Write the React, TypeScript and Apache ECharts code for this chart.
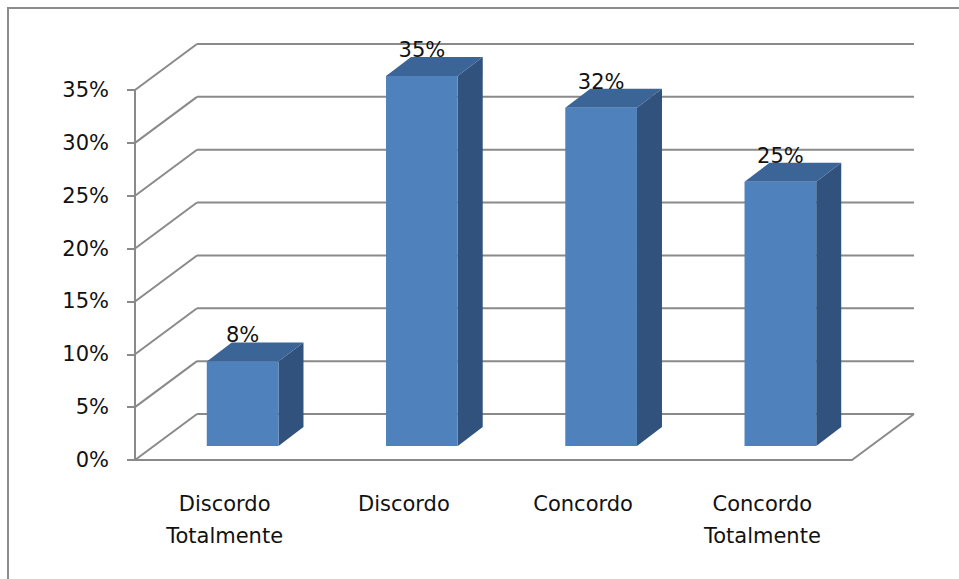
import React, { useEffect, useRef } from "react";
import * as echarts from "echarts";

// Survey answers and their shares (percent)
const categories = ["Discordo\nTotalmente", "Discordo", "Concordo", "Concordo\nTotalmente"];
const values = [8, 35, 32, 25];
// Value-axis ticks (percent)
const yTicks = [0, 5, 10, 15, 20, 25, 30, 35];

// Oblique projection used to fake the 3D look
const WALL_DX = 62;
const WALL_DY = -46;
const PLANE_DX = 18;
const PLANE_DY = -14;
const BAR_DX = 25;
const BAR_DY = -19;

const GRID_COLOR = "#8a8a8a";
const FONT = "DejaVu Sans";

export default function App() {
  const ref = useRef<HTMLDivElement>(null);

  useEffect(() => {
    if (!ref.current) return;
    const chart = echarts.init(ref.current, null, { renderer: "svg" });

    const option: any = {
      animation: false,
      backgroundColor: "#ffffff",
      graphic: [
        {
          type: "rect",
          z: -10,
          shape: { x: 8, y: 8, width: 1000, height: 620 },
          style: { fill: "none", stroke: "#8c8c8c", lineWidth: 2 },
          silent: true,
        },
      ],
      grid: { left: 135, right: 107, top: 90, bottom: 119, containLabel: false },
      xAxis: {
        type: "category",
        data: categories,
        axisLine: { lineStyle: { color: GRID_COLOR, width: 2 } },
        axisTick: { length: 8, lineStyle: { color: GRID_COLOR, width: 2 } },
        axisLabel: {
          margin: 28,
          fontFamily: FONT,
          fontSize: 21,
          lineHeight: 32,
          color: "#111",
          interval: 0,
        },
      },
      yAxis: {
        type: "value",
        min: 0,
        max: 35,
        interval: 5,
        axisLine: { show: true, lineStyle: { color: GRID_COLOR, width: 2 } },
        axisTick: { show: true, length: 8, lineStyle: { color: GRID_COLOR, width: 2 } },
        splitLine: { show: false },
        axisLabel: {
          margin: 26,
          formatter: "{value}%",
          fontFamily: FONT,
          fontSize: 21,
          color: "#111",
        },
      },
      series: [
        {
          // back wall, side wall and floor lines
          type: "custom",
          clip: false,
          z: 1,
          silent: true,
          data: yTicks.map((v) => [0, v]),
          renderItem: (params: any, api: any) => {
            const cs = params.coordSys;
            const left = cs.x;
            const right = cs.x + cs.width;
            const v = api.value(1);
            const y = api.coord([0, v])[1];
            const ls = { stroke: GRID_COLOR, lineWidth: 2, fill: "none" };
            const children: any[] = [
              {
                type: "line",
                shape: { x1: left, y1: y, x2: left + WALL_DX, y2: y + WALL_DY },
                style: ls,
              },
              {
                type: "line",
                shape: { x1: left + WALL_DX, y1: y + WALL_DY, x2: right + WALL_DX, y2: y + WALL_DY },
                style: ls,
              },
            ];
            if (v === 0) {
              children.push({
                type: "line",
                shape: { x1: right, y1: y, x2: right + WALL_DX, y2: y + WALL_DY },
                style: ls,
              });
            }
            return { type: "group", children };
          },
        },
        {
          // 3D columns with value labels
          type: "custom",
          clip: false,
          z: 3,
          data: values.map((v, i) => [i, v]),
          renderItem: (params: any, api: any) => {
            const i = api.value(0);
            const v = api.value(1);
            const [cx, y0] = api.coord([i, 0]);
            const y1 = api.coord([i, v])[1];
            const band = api.size([1, 0])[0];
            const w = band * 0.4;
            const x = cx + PLANE_DX - w / 2;
            const bottom = y0 + PLANE_DY;
            const top = y1 + PLANE_DY;
            return {
              type: "group",
              children: [
                {
                  type: "polygon",
                  shape: {
                    points: [
                      [x + w, top],
                      [x + w + BAR_DX, top + BAR_DY],
                      [x + w + BAR_DX, bottom + BAR_DY],
                      [x + w, bottom],
                    ],
                  },
                  style: { fill: "#30527c" },
                },
                {
                  type: "polygon",
                  shape: {
                    points: [
                      [x, top],
                      [x + BAR_DX, top + BAR_DY],
                      [x + w + BAR_DX, top + BAR_DY],
                      [x + w, top],
                    ],
                  },
                  style: { fill: "#3c6597" },
                },
                {
                  type: "rect",
                  shape: { x, y: top, width: w, height: bottom - top },
                  style: { fill: "#4f81bd" },
                },
                {
                  type: "text",
                  style: {
                    text: v + "%",
                    x: x + w / 2,
                    y: top - 26,
                    align: "center",
                    verticalAlign: "middle",
                    fontFamily: FONT,
                    fontSize: 21,
                    fill: "#111",
                  },
                },
              ],
            };
          },
        },
      ],
    };

    chart.setOption(option);
    return () => chart.dispose();
  }, []);

  return (
    <div
      ref={ref}
      style={{ position: "absolute", left: 0, top: 0, width: 959, height: 579, background: "#fff" }}
    />
  );
}
